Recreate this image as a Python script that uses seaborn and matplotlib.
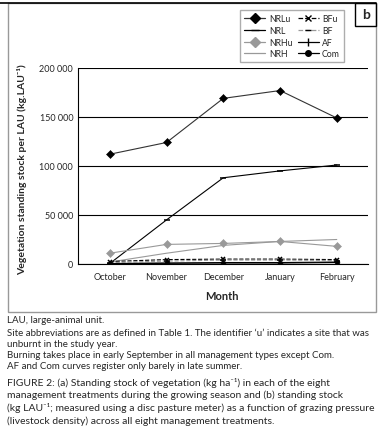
import seaborn as sns
import matplotlib.pyplot as plt
import pandas as pd
from matplotlib.patches import Rectangle
from matplotlib.lines import Line2D

# dados do gráfico
months = ["October", "November", "December", "January", "February"]
nrlu = [112000, 124000, 169000, 177000, 149000]
nrl = [500, 45000, 88000, 95000, 101000]
nrhu = [11000, 20000, 21000, 23000, 18000]
nrh = [2000, 11000, 19000, 23000, 25000]
bfu = [2500, 4500, 5000, 5000, 4500]
bf = [1500, 3000, 4000, 4000, 3500]
af = [500, 1000, 1000, 1000, 1500]
com = [300, 700, 1500, 1500, 2000]
yticks = [0, 50000, 100000, 150000, 200000]
ytick_labels = ["0", "50 000", "100 000", "150 000", "200 000"]

series = {"NRLu": nrlu, "NRL": nrl, "NRHu": nrhu, "NRH": nrh,
          "BFu": bfu, "BF": bf, "AF": af, "Com": com}
# estilo de cada série: cor, marcador, tamanho, tipo de linha
styles = {
    "NRLu": ("#333333", "D", 4.5, "-"),
    "NRL": ("black", "_", 5, "-"),
    "NRHu": ("#999999", "D", 4.5, "-"),
    "NRH": ("#999999", "", 0, "-"),
    "BFu": ("black", "x", 3.5, "--"),
    "BF": ("#999999", "_", 4, "--"),
    "AF": ("black", "|", 5, "-"),
    "Com": ("black", "o", 3.5, "-"),
}

sns.set_style("white")
plt.rcParams["font.family"] = ["Lato", "DejaVu Sans"]

fig = plt.figure(figsize=(3.85, 4.27), dpi=100)
ax = fig.add_axes([78 / 385, 1 - 265 / 427, 290 / 385, 196 / 427])

for name, vals in series.items():
    c, m, ms, ls = styles[name]
    df = pd.DataFrame({"Month": months, "val": vals})
    sns.lineplot(data=df, x="Month", y="val", ax=ax, color=c, marker=m if m else None,
                 markersize=ms, linestyle=ls, linewidth=0.8, sort=False,
                 markerfacecolor="black" if name != "NRHu" else c,
                 markeredgecolor="black" if name != "NRHu" else c,
                 markeredgewidth=1.1 if m in ("_", "|", "x") else 0.4)

ax.set_xlim(-0.56, 4.55)
ax.set_ylim(0, 200000)
ax.set_yticks(yticks)
ax.set_yticklabels(ytick_labels, fontsize=6.5)
ax.set_xticks(range(len(months)))
ax.set_xticklabels(months, fontsize=6.5)
ax.set_xticks([i - 0.5 for i in range(len(months) + 1)], minor=True)
ax.tick_params(axis="x", which="major", length=0, pad=6)
ax.tick_params(axis="x", which="minor", length=3, width=0.8, color="black", direction="out")
ax.tick_params(axis="y", length=3, width=0.8, color="black", direction="inout", pad=2)
ax.set_xlabel("")
ax.set_ylabel("")
ax.yaxis.grid(True, color="black", linewidth=0.8)
for s in ["top", "right"]:
    ax.spines[s].set_visible(False)
for s in ["left", "bottom"]:
    ax.spines[s].set_color("black")
    ax.spines[s].set_linewidth(0.8)

fig.text(22 / 385, 1 - 170 / 427, "Vegetation standing stock per LAU (kg.LAU\u207b\u00b9)",
         rotation=90, ha="center", va="center", fontsize=7.5, fontweight="bold")
fig.text(222 / 385, 1 - 297 / 427, "Month", ha="center", va="center",
         fontsize=8, fontweight="bold")

# legenda
handles = {}
for name in series:
    c, m, ms, ls = styles[name]
    fc = c if name == "NRHu" else "black"
    handles[name] = Line2D([], [], color=c, marker=m if m else None, markersize=ms + 0.5,
                           linestyle=ls, linewidth=0.9, markeredgecolor=fc,
                           markerfacecolor=fc, label=name)
order = ["NRLu", "NRL", "NRHu", "NRH", "BFu", "BF", "AF", "Com"]
fig.legend(handles=[handles[n] for n in order], ncol=2,
           loc="upper left", bbox_to_anchor=(236 / 385, 1 - 7 / 427), fontsize=6.3,
           frameon=True, fancybox=False, edgecolor="#999999", handlelength=2.4,
           columnspacing=0.6, handletextpad=0.4, labelspacing=0.3, borderpad=0.45)

# moldura e caixa "b"
fig.patches.append(Rectangle((8 / 385, 1 - 313 / 427), 368 / 385, 309 / 427,
                             transform=fig.transFigure, fill=False, edgecolor="#999999", lw=1))
fig.add_artist(Line2D([0, 376 / 385], [1 - 4 / 427] * 2, color="black", lw=1.2))
fig.patches.append(Rectangle((355 / 385, 1 - 27 / 427), 21 / 385, 23 / 427,
                             transform=fig.transFigure, fill=False, edgecolor="black", lw=1))
fig.text(366 / 385, 1 - 15 / 427, "b", ha="center", va="center", fontsize=10, fontweight="bold")

# notas
notes = [
    (321, "LAU, large-animal unit."),
    (334, "Site abbreviations are as defined in Table 1. The identifier \u2018u\u2019 indicates a site that was"),
    (345, "unburnt in the study year."),
    (356, "Burning takes place in early September in all management types except Com."),
    (367, "AF and Com curves register only barely in late summer."),
]
for y, t in notes:
    fig.text(7 / 385, 1 - y / 427, t, ha="left", va="center", fontsize=7.0)

caption = [
    (383, "FIGURE 2: (a) Standing stock of vegetation (kg ha\u207b\u00b9) in each of the eight"),
    (395, "management treatments during the growing season and (b) standing stock"),
    (408, "(kg LAU\u207b\u00b9; measured using a disc pasture meter) as a function of grazing pressure"),
    (421, "(livestock density) across all eight management treatments."),
]
for y, t in caption:
    fig.text(7 / 385, 1 - y / 427, t, ha="left", va="center", fontsize=7.45)

fig.savefig("out.png", dpi=100)
